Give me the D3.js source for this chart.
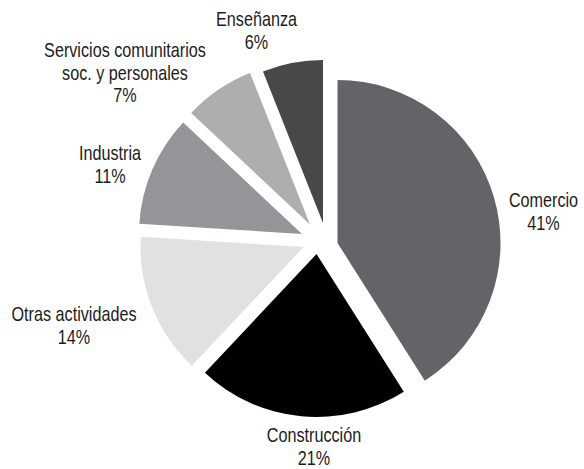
<!DOCTYPE html>
<html>
<head>
<meta charset="utf-8">
<script src="https://cdn.jsdelivr.net/npm/d3@7"></script>
<style>
  html, body { margin: 0; padding: 0; background: #ffffff; }
  svg { display: block; }
  text { font-family: "Liberation Sans", Arial, sans-serif; fill: #1c1c1c; }
</style>
</head>
<body>
<svg id="chart" width="584" height="469"></svg>
<script>
// Ocupados por rama de actividad (%)
const categories = ["Comercio", "Construcción", "Otras actividades", "Industria", "Servicios comunitarios soc. y personales", "Enseñanza"];
const values = [41, 21, 14, 11, 7, 6];
const labelLines = [
  ["Comercio"],
  ["Construcción"],
  ["Otras actividades"],
  ["Industria"],
  ["Servicios comunitarios", "soc. y personales"],
  ["Enseñanza"]
];

// Styling
const colors = ["#636467", "#000000", "#e0e1e2", "#939598", "#adaeb0", "#48484a"];
const radius = 163;
const center = [318, 240];
// Per-slice displacement of the exploded wedges
const explode = [[19.5, 3], [-1.5, 14], [-14.5, 7], [-16, -6], [-8, -15.5], [5, -17]];
// Label anchor (centre x, first baseline y) for each slice
const labelPos = [[543.5, 207], [314, 442], [74, 321], [110, 160], [125, 57.5], [256.5, 26.5]];
const lineHeight = 23;
const fontSize = 19.5;
const narrow = 0.83; // horizontal condensing of the label face

const svg = d3.select("#chart");

const pie = d3.pie().sort(null).value(d => d)
  .startAngle(0).endAngle(2 * Math.PI);
const arcs = pie(values);
const arc = d3.arc().innerRadius(0).outerRadius(radius);

const g = svg.append("g").attr("transform", `translate(${center[0]},${center[1]})`);

g.selectAll("path.slice")
  .data(arcs)
  .join("path")
  .attr("class", "slice")
  .attr("d", arc)
  .attr("fill", (d, i) => colors[i])
  .attr("transform", (d, i) => `translate(${explode[i][0]},${explode[i][1]})`);

// Category name plus percentage below it
const labels = svg.selectAll("text.label")
  .data(arcs)
  .join("text")
  .attr("class", "label")
  .attr("text-anchor", "middle")
  .attr("font-size", fontSize)
  .attr("transform", (d, i) => `translate(${labelPos[i][0]},0) scale(${narrow},1)`);

labels.each(function (d, i) {
  const t = d3.select(this);
  const lines = labelLines[i].concat([d3.format(".0f")(values[i]) + "%"]);
  const step = i === 4 ? 22.5 : lineHeight;
  lines.forEach((line, k) => {
    t.append("tspan")
      .attr("x", 0)
      .attr("y", labelPos[i][1] + k * step)
      .text(line);
  });
});
</script>
</body>
</html>
